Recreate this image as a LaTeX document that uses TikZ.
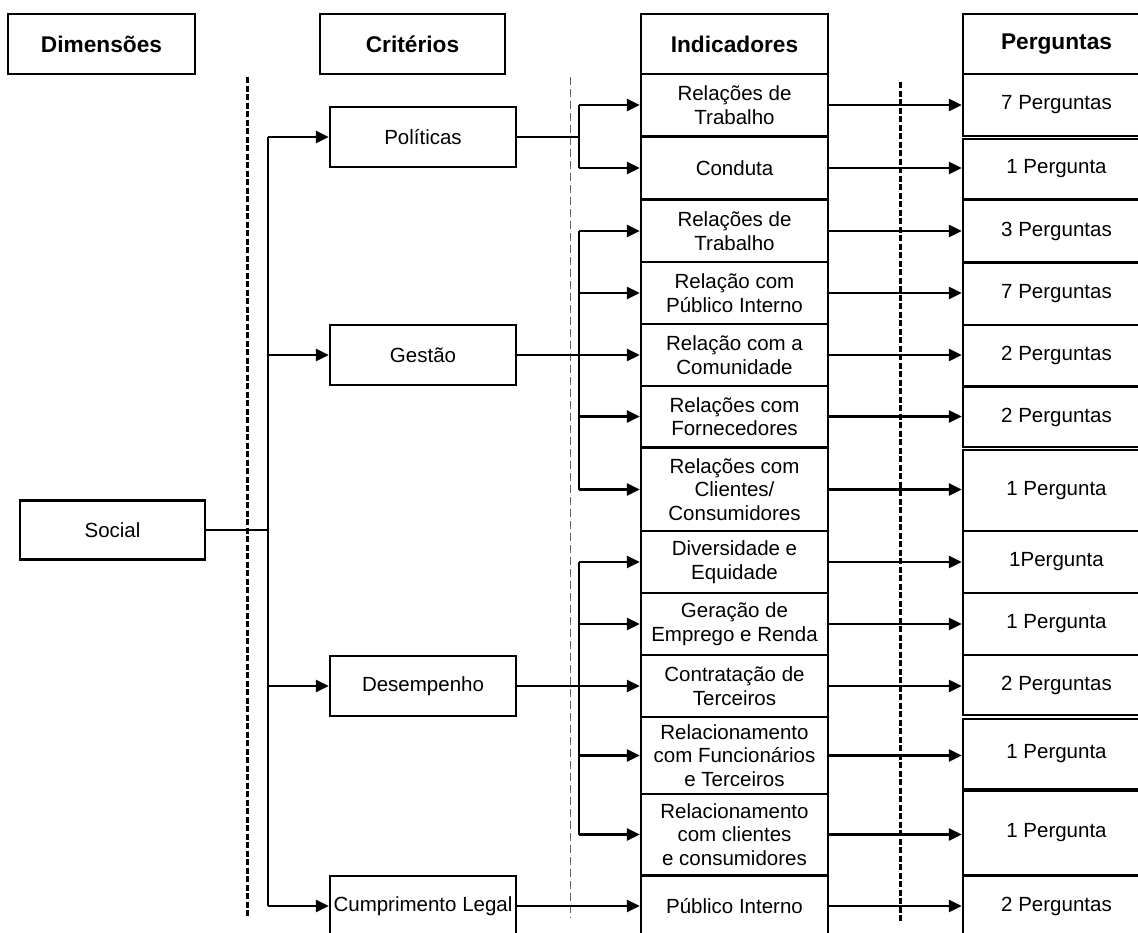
\documentclass[tikz,border=0pt]{standalone}
\usepackage{fontspec}
\setmainfont{Liberation Sans}
\usetikzlibrary{arrows.meta}
\begin{document}
\begin{tikzpicture}[x=1pt,y=-1pt,
  box/.style={draw,line width=2.4pt,rectangle,inner sep=0pt,align=center,
    font=\fontsize{20.5pt}{23.5pt}\selectfont},
  hdr/.style={box,minimum width=187pt,minimum height=60pt,
    font=\fontsize{22.7pt}{26pt}\selectfont\bfseries},
  ind/.style={box,minimum width=187pt},
  crit/.style={box,minimum width=186pt,minimum height=60pt},
  conn/.style={line width=2.6pt},
  arr/.style={conn,-{Triangle[length=13pt,width=12pt]}},
  sep/.style={line width=3pt,dash pattern=on 6pt off 2.5pt},
  thinsep/.style={line width=1pt,black!60,dash pattern=on 8pt off 4pt}]
\useasboundingbox (0,0) rectangle (1138,932);

% column headings
\node[hdr] (hdim) at (101.5,44) {Dimensões};
\node[hdr,minimum width=185pt] (hcrit) at (412.5,44) {Critérios};
\node[hdr] (hind) at (734.5,44) {Indicadores};
\node[hdr] (hper) at (1056.5,44) {Perguntas};

% column separators
\draw[sep] (247,77) -- (247,918);
\draw[thinsep] (570,77) -- (570,918);
\draw[sep] (900,82) -- (900,922);

% dimension
\node[box,minimum width=185pt,minimum height=59pt] (soc) at (112.5,530) {Social};

% criteria
\node[crit] (pol) at (423,137) {Políticas};
\node[crit] (ges) at (423,355) {Gestão};
\node[crit] (des) at (423,686) {Desempenho};
\node[crit] (cum) at (423,906) {Cumprimento Legal};

% indicators
\node[ind,minimum height=62pt] (i1) at (734.5,105) {Relações de\\Trabalho};
\node[ind,minimum height=62pt] (i2) at (734.5,168) {Conduta};
\node[ind,minimum height=62pt] (i3) at (734.5,231) {Relações de\\Trabalho};
\node[ind,minimum height=62pt] (i4) at (734.5,293) {Relação com\\Público Interno};
\node[ind,minimum height=62pt] (i5) at (734.5,355) {Relação com a\\Comunidade};
\node[ind,minimum height=61pt] (i6) at (734.5,416.5) {Relações com\\Fornecedores};
\node[ind,minimum height=83pt] (i7) at (734.5,489.5) {Relações com\\Clientes/\\Consumidores};
\node[ind,minimum height=62pt] (i8) at (734.5,562) {Diversidade e\\Equidade};
\node[ind,minimum height=62pt] (i9) at (734.5,624) {Geração de\\Emprego e Renda};
\node[ind,minimum height=62pt] (i10) at (734.5,686) {Contratação de\\Terceiros};
\node[ind,minimum height=77pt] (i11) at (734.5,755.5) {Relacionamento\\com Funcionários\\e Terceiros};
\node[ind,minimum height=81pt] (i12) at (734.5,834.5) {Relacionamento\\com clientes\\e consumidores};
\node[ind,minimum height=60pt] (i13) at (734.5,906) {Público Interno};

% questions
\node[ind,minimum height=62pt] (p1) at (1056.5,105) {7 Perguntas};
\node[ind,minimum height=60pt] (p2) at (1056.5,169) {1 Pergunta};
\node[ind,minimum height=62pt] (p3) at (1056.5,231) {3 Perguntas};
\node[ind,minimum height=62pt] (p4) at (1056.5,294) {7 Perguntas};
\node[ind,minimum height=61pt] (p5) at (1056.5,355.5) {2 Perguntas};
\node[ind,minimum height=60pt] (p6) at (1056.5,417) {2 Perguntas};
\node[ind,minimum height=81pt] (p7) at (1056.5,490.5) {1 Pergunta};
\node[ind,minimum height=62pt] (p8) at (1056.5,562) {1Pergunta};
\node[ind,minimum height=62pt] (p9) at (1056.5,624) {1 Pergunta};
\node[ind,minimum height=60pt] (p10) at (1056.5,685) {2 Perguntas};
\node[ind,minimum height=70pt] (p11) at (1056.5,754) {1 Pergunta};
\node[ind,minimum height=84pt] (p12) at (1056.5,833) {1 Pergunta};
\node[ind,minimum height=60pt] (p13) at (1056.5,906) {2 Perguntas};

% dimension to criteria
\coordinate (sp) at (268,0);
\draw[conn] (soc.east) -- (soc.east -| sp);
\draw[conn] (sp |- pol.west) -- (sp |- cum.west);
\foreach \c in {pol,ges,des,cum}
  \draw[arr] (sp |- \c.west) -- (\c.west);

% criteria to indicators
\coordinate (br) at (579,0);
\draw[conn] (pol.east) -- (br |- pol.east);
\draw[conn] (br |- i1.west) -- (br |- i2.west);
\draw[conn] (br |- i3.west) -- (br |- i7.west);
\draw[conn] (br |- i8.west) -- (br |- i12.west);
\draw[conn] (ges.east) -- (br |- ges.east);
\draw[conn] (des.east) -- (br |- des.east);
\foreach \i in {i1,i2,i3,i4,i5,i6,i7,i8,i9,i10,i11,i12}
  \draw[arr] (br |- \i.west) -- (\i.west);
\draw[arr] (cum.east) -- (i13.west);

% indicators to questions
\foreach \n in {1,...,13}
  \draw[arr] (i\n.east) -- (i\n.east -| p\n.west);
\end{tikzpicture}
\end{document}
